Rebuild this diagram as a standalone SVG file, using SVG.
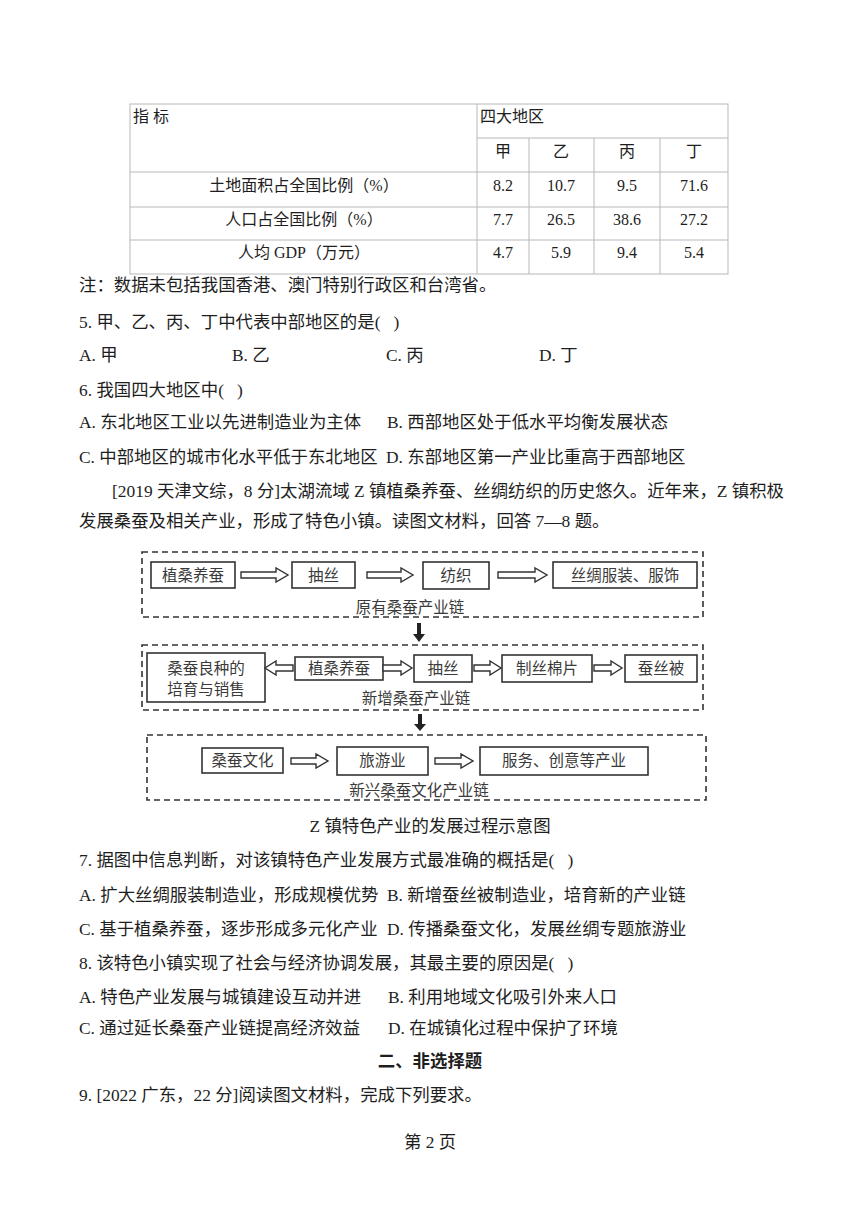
<svg xmlns="http://www.w3.org/2000/svg" width="860" height="1216" viewBox="0 0 860 1216">
<style>
text{font-family:"Liberation Serif","Noto Sans CJK SC",serif;fill:#1e1e1e}
.b{font-size:17.4px}
.t{font-size:16px}
.m{text-anchor:middle}
.d{font-size:15.5px;fill:#3a3a3a}
.tl{stroke:#b8b8b8;stroke-width:1;fill:none}
.box{fill:#fff;stroke:#333;stroke-width:1.6}
.dash{fill:none;stroke:#333;stroke-width:1.6;stroke-dasharray:6 4}
.ha{fill:#fff;stroke:#333;stroke-width:1.4;stroke-linejoin:miter}
.sa{fill:#222}
.h{font-weight:bold}
</style>
<rect width="860" height="1216" fill="#fff"/>

<g id="table">
<rect class="tl" x="130" y="104" width="598" height="170"/>
<line class="tl" x1="477" y1="104" x2="477" y2="274"/>
<line class="tl" x1="477" y1="138" x2="728" y2="138"/>
<line class="tl" x1="130" y1="172" x2="728" y2="172"/>
<line class="tl" x1="130" y1="207" x2="728" y2="207"/>
<line class="tl" x1="130" y1="240" x2="728" y2="240"/>
<line class="tl" x1="529" y1="138" x2="529" y2="274"/>
<line class="tl" x1="594" y1="138" x2="594" y2="274"/>
<line class="tl" x1="660" y1="138" x2="660" y2="274"/>
<text class="t" x="133" y="122">指 标</text>
<text class="t" x="480" y="122">四大地区</text>
<text class="t m" x="503" y="157">甲</text>
<text class="t m" x="561" y="157">乙</text>
<text class="t m" x="627" y="157">丙</text>
<text class="t m" x="694" y="157">丁</text>
<text class="t m" x="304" y="191">土地面积占全国比例（%）</text>
<text class="t m" x="304" y="225">人口占全国比例（%）</text>
<text class="t m" x="304" y="258">人均 GDP（万元）</text>
<text class="t m" x="503" y="191">8.2</text>
<text class="t m" x="561" y="191">10.7</text>
<text class="t m" x="627" y="191">9.5</text>
<text class="t m" x="694" y="191">71.6</text>
<text class="t m" x="503" y="225">7.7</text>
<text class="t m" x="561" y="225">26.5</text>
<text class="t m" x="627" y="225">38.6</text>
<text class="t m" x="694" y="225">27.2</text>
<text class="t m" x="503" y="258">4.7</text>
<text class="t m" x="561" y="258">5.9</text>
<text class="t m" x="627" y="258">9.4</text>
<text class="t m" x="694" y="258">5.4</text>
</g>

<g id="questions-top">
<text class="b" x="79" y="291">注：数据未包括我国香港、澳门特别行政区和台湾省。</text>
<text class="b" x="79" y="328">5. 甲、乙、丙、丁中代表中部地区的是(&#160;&#160;&#160;)</text>
<text class="b" x="79" y="361">A. 甲</text>
<text class="b" x="232" y="361">B. 乙</text>
<text class="b" x="386" y="361">C. 丙</text>
<text class="b" x="539" y="361">D. 丁</text>
<text class="b" x="79" y="396">6. 我国四大地区中(&#160;&#160;&#160;)</text>
<text class="b" x="79" y="428">A. 东北地区工业以先进制造业为主体</text>
<text class="b" x="387" y="428">B. 西部地区处于低水平均衡发展状态</text>
<text class="b" x="79" y="463">C. 中部地区的城市化水平低于东北地区</text>
<text class="b" x="386" y="463">D. 东部地区第一产业比重高于西部地区</text>
<text class="b" x="112" y="497">[2019 天津文综，8 分]太湖流域 Z 镇植桑养蚕、丝绸纺织的历史悠久。近年来，Z 镇积极</text>
<text class="b" x="79" y="527">发展桑蚕及相关产业，形成了特色小镇。读图文材料，回答 7—8 题。</text>
</g>

<g id="chain1">
<rect class="dash" x="142" y="552" width="561" height="65"/>
<text class="d m" x="410" y="613">原有桑蚕产业链</text>
</g>
<g id="n-zhisang1"><rect class="box" x="151" y="562" width="84" height="26"/><text class="d m" x="193" y="581">植桑养蚕</text></g>
<g id="n-chousi1"><rect class="box" x="292" y="562" width="63" height="26"/><text class="d m" x="323.5" y="581">抽丝</text></g>
<g id="n-fangzhi"><rect class="box" x="423" y="562" width="66" height="27"/><text class="d m" x="456" y="581">纺织</text></g>
<g id="n-fuzhuang"><rect class="box" x="553" y="562" width="144" height="26"/><text class="d m" x="625" y="581">丝绸服装、服饰</text></g>

<g id="chain2">
<rect class="dash" x="142" y="645" width="561" height="65"/>
<text class="d m" x="416" y="704">新增桑蚕产业链</text>
</g>
<g id="n-liangzhong"><rect class="box" x="147" y="653" width="118" height="49"/><text class="d m" x="206" y="674">桑蚕良种的</text><text class="d m" x="206" y="695">培育与销售</text></g>
<g id="n-zhisang2"><rect class="box" x="295" y="657" width="88" height="23"/><text class="d m" x="339" y="674">植桑养蚕</text></g>
<g id="n-chousi2"><rect class="box" x="414" y="655" width="58" height="27"/><text class="d m" x="443" y="674">抽丝</text></g>
<g id="n-mianpian"><rect class="box" x="502" y="655" width="90" height="27"/><text class="d m" x="547" y="674">制丝棉片</text></g>
<g id="n-cansibei"><rect class="box" x="625" y="655" width="72" height="27"/><text class="d m" x="661" y="674">蚕丝被</text></g>

<g id="chain3">
<rect class="dash" x="147" y="735" width="559" height="65"/>
<text class="d m" x="419" y="796">新兴桑蚕文化产业链</text>
</g>
<g id="n-wenhua"><rect class="box" x="202" y="748" width="81" height="25"/><text class="d m" x="242.5" y="766">桑蚕文化</text></g>
<g id="n-lvyou"><rect class="box" x="337" y="747" width="91" height="28"/><text class="d m" x="382.5" y="766">旅游业</text></g>
<g id="n-fuwu"><rect class="box" x="480" y="747" width="168" height="28"/><text class="d m" x="564" y="766">服务、创意等产业</text></g>

<g id="connectors">
<polygon class="ha" points="241,572 276,572 276,568 288,575 276,582 276,578 241,578"/>
<polygon class="ha" points="367,572 401,572 401,568 413,575 401,582 401,578 367,578"/>
<polygon class="ha" points="498,572 535,572 535,568 547,575 535,582 535,578 498,578"/>
<polygon class="ha" points="293,665 276,665 276,661 265,668 276,675 276,671 293,671"/>
<polygon class="ha" points="383,665 401,665 401,661 412,668 401,675 401,671 383,671"/>
<polygon class="ha" points="474,665 490,665 490,661 501,668 490,675 490,671 474,671"/>
<polygon class="ha" points="594,665 611,665 611,661 622,668 611,675 611,671 594,671"/>
<polygon class="ha" points="291,758 316,758 316,754 328,761 316,768 316,764 291,764"/>
<polygon class="ha" points="435,758 461,758 461,754 473,761 461,768 461,764 435,764"/>
<polygon class="sa" points="417,623 421,623 421,634 425,634 419,642 413,634 417,634"/>
<polygon class="sa" points="418,714 422,714 422,724 426,724 420,731 414,724 418,724"/>
</g>

<g id="questions-bottom">
<text class="b m" x="430" y="832">Z 镇特色产业的发展过程示意图</text>
<text class="b" x="79" y="866">7. 据图中信息判断，对该镇特色产业发展方式最准确的概括是(&#160;&#160;&#160;)</text>
<text class="b" x="79" y="901">A. 扩大丝绸服装制造业，形成规模优势</text>
<text class="b" x="387" y="901">B. 新增蚕丝被制造业，培育新的产业链</text>
<text class="b" x="79" y="935">C. 基于植桑养蚕，逐步形成多元化产业</text>
<text class="b" x="387" y="935">D. 传播桑蚕文化，发展丝绸专题旅游业</text>
<text class="b" x="79" y="969">8. 该特色小镇实现了社会与经济协调发展，其最主要的原因是(&#160;&#160;&#160;)</text>
<text class="b" x="79" y="1003">A. 特色产业发展与城镇建设互动并进</text>
<text class="b" x="388" y="1003">B. 利用地域文化吸引外来人口</text>
<text class="b" x="79" y="1034">C. 通过延长桑蚕产业链提高经济效益</text>
<text class="b" x="388" y="1034">D. 在城镇化过程中保护了环境</text>
<text class="b m h" x="430" y="1067">二、非选择题</text>
<text class="b" x="79" y="1101">9. [2022 广东，22 分]阅读图文材料，完成下列要求。</text>
<text class="b m" x="430" y="1148">第 2 页</text>
</g>
</svg>
